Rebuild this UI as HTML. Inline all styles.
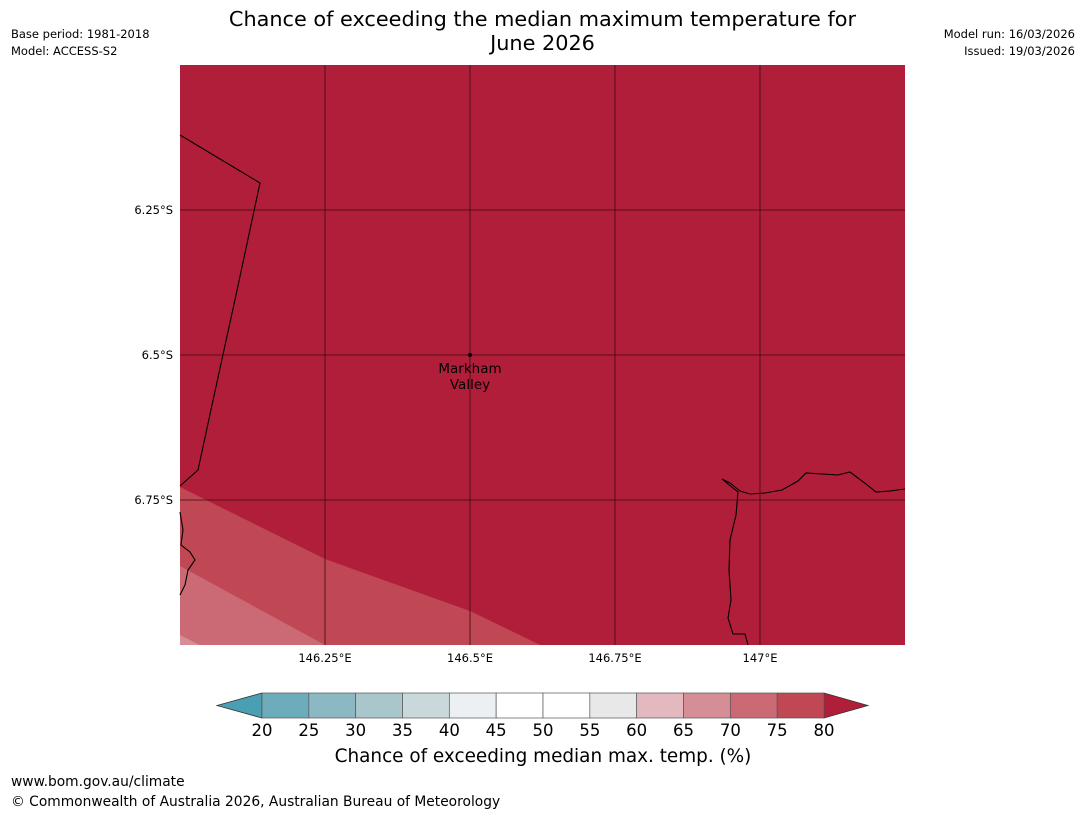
<!DOCTYPE html>
<html><head><meta charset="utf-8"><style>
body{margin:0;background:#fff;font-family:"DejaVu Sans","Liberation Sans",sans-serif;}
#wrap{position:relative;width:1085px;height:816px;overflow:hidden;}
.t{position:absolute;white-space:nowrap;color:#000;}
</style></head><body>
<div id="wrap">
<div class="t" style="left:0;width:1085px;top:7px;text-align:center;font-size:20.8px;line-height:24px">Chance of exceeding the median maximum temperature for<br>June 2026</div>
<div class="t" style="left:11px;top:27px;font-size:11.5px">Base period: 1981-2018</div>
<div class="t" style="left:11px;top:44px;font-size:11.5px">Model: ACCESS-S2</div>
<div class="t" style="right:10px;top:27px;font-size:11.5px">Model run: 16/03/2026</div>
<div class="t" style="right:10px;top:44px;font-size:11.5px">Issued: 19/03/2026</div>
<svg id="svg" width="1085" height="816" style="position:absolute;left:0;top:0"></svg>
<div class="t" style="left:11px;top:774px;font-size:13.8px">www.bom.gov.au/climate</div>
<div class="t" style="left:11px;top:794px;font-size:13.8px">© Commonwealth of Australia 2026, Australian Bureau of Meteorology</div>
</div>
<script>
const lonTicks=[146.25,146.5,146.75,147];
const latTicks=[6.25,6.5,6.75];
const cbLevels=[20,25,30,35,40,45,50,55,60,65,70,75,80];
const cbColors=["#6DACBA","#8BB8C3","#A8C6CB","#C9D8DB","#ECF0F2","#FFFFFF","#FFFFFF","#E8E8E8","#E3B8BE","#D58E96","#CB6A74","#C04854"];
const band80=[[146,6.7276],[146.25,6.8517],[146.5,6.9414],[146.621,7.0]];
const band75=[[146,6.8638],[146.25,7.0]];
const band70=[[146,6.9828],[146.034,7.0]];
const NS="http://www.w3.org/2000/svg";
const FF='DejaVu Sans, Liberation Sans, sans-serif';
const svg=document.getElementById('svg');
const X0=180,X1=905,Y0=65,Y1=645;
const x=lon=>X0+(lon-146)/1.25*(X1-X0);
const y=lat=>Y0+(lat-6)/1.0*(Y1-Y0);
function mk(tag,attrs,parent){const e=document.createElementNS(NS,tag);for(const k in attrs)e.setAttribute(k,attrs[k]);(parent||svg).appendChild(e);return e;}
const bg=mk('rect',{x:X0,y:Y0,width:X1-X0,height:Y1-Y0,fill:'#B11E3A'});


function band(pts,fill,name){
 let d='M'+pts.map(p=>x(p[0])+','+y(p[1])).join(' L')+' L'+X0+','+Y1+' Z';
 const p=mk('path',{d:d,fill:fill});
 
 
}
band(band80,'#C04854','band-75-80');
band(band75,'#CB6A74','band-70-75');
band(band70,'#D58E96','band-65-70');
const c1=mk('path',{d:'M180,135 L260,183 L236,295 L212,405 L198,470 L180,486',fill:'none',stroke:'#000','stroke-width':1.1});


const c2=mk('path',{d:'M180,512 L183,530 L181,545 L190,552 L195,560 L188,570 L185,585 L180,595',fill:'none',stroke:'#000','stroke-width':1.1});


const c3=mk('path',{d:'M905,489 L890,491 L876,492 L866,484 L850,472 L838,475 L822,474 L806,473 L798,481 L782,490 L765,493 L750,494 L740,491 L730,483 L722,479 L728,484 L738,492 L736,515 L730,540 L729,570 L731,600 L728,618 L733,634 L745,634 L748,645',fill:'none',stroke:'#000','stroke-width':1.1});


lonTicks.forEach(v=>{
 const l=mk('line',{x1:x(v),x2:x(v),y1:Y0,y2:Y1,stroke:'#3a0a12','stroke-width':0.8});
 
 
 const t=mk('text',{x:x(v),y:Y1+17,'text-anchor':'middle','font-size':11.5,'font-family':FF});
 t.textContent=v+'°E';
 
 
});
latTicks.forEach(v=>{
 const l=mk('line',{x1:X0,x2:X1,y1:y(v),y2:y(v),stroke:'#3a0a12','stroke-width':0.8});
 
 
 const t=mk('text',{x:X0-7,y:y(v)+4,'text-anchor':'end','font-size':11.5,'font-family':FF});
 t.textContent=v+'°S';
 
 
});
const dot=mk('circle',{cx:x(146.5),cy:y(6.5),r:2,fill:'#000'});


const lt=mk('text',{x:x(146.5),y:y(6.5)+18,'text-anchor':'middle','font-size':13.5,'font-family':FF});
lt.textContent='Markham';


const lt2=mk('text',{x:x(146.5),y:y(6.5)+34,'text-anchor':'middle','font-size':13.5,'font-family':FF});
lt2.textContent='Valley';


const CB0=262,CB1=824,CBY=693,CBH=25;
const cx=v=>CB0+(v-cbLevels[0])/(cbLevels[cbLevels.length-1]-cbLevels[0])*(CB1-CB0);
const la=mk('polygon',{points:`217,${CBY+CBH/2} ${CB0},${CBY} ${CB0},${CBY+CBH}`,fill:'#4AA0B2',stroke:'#333','stroke-width':0.8});


const ra=mk('polygon',{points:`868,${CBY+CBH/2} ${CB1},${CBY} ${CB1},${CBY+CBH}`,fill:'#B11E3A',stroke:'#333','stroke-width':0.8});


cbColors.forEach((c,i)=>{
 const r=mk('rect',{x:cx(cbLevels[i]),y:CBY,width:cx(cbLevels[i+1])-cx(cbLevels[i]),height:CBH,fill:c,stroke:'#555','stroke-width':0.7});
 
 
});
cbLevels.forEach(v=>{
 const t=mk('text',{x:cx(v),y:CBY+CBH+18,'text-anchor':'middle','font-size':16.5,'font-family':FF});
 t.textContent=v;
 
 
});
const ct=mk('text',{x:(CB0+CB1)/2,y:762,'text-anchor':'middle','font-size':18.4,'font-family':FF});
ct.textContent='Chance of exceeding median max. temp. (%)';


</script>
</body></html>
